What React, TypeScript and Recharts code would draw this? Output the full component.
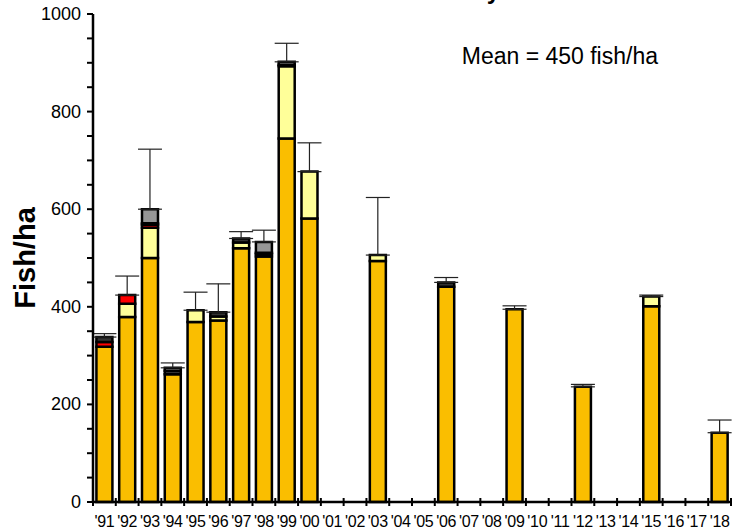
import React from "react";
import { ComposedChart, Bar, XAxis, YAxis, Scatter, ErrorBar } from "recharts";

const years = ["'91","'92","'93","'94","'95","'96","'97","'98","'99","'00","'01","'02","'03","'04","'05","'06","'07","'08","'09","'10","'11","'12","'13","'14","'15","'16","'17","'18"];
const orange = [318, 379, 500, 262, 369, 372, 520, 503, 745, 581, 0, 0, 494, 0, 0, 441, 0, 0, 395, 0, 0, 236, 0, 0, 401, 0, 0, 142];
const yellow = [0, 27, 62, 0, 24, 8, 12, 0, 148, 96, 0, 0, 12, 0, 0, 0, 0, 0, 0, 0, 0, 0, 0, 0, 20, 0, 0, 0];
const red = [10, 18, 6, 0, 0, 0, 0, 5, 0, 0, 0, 0, 0, 0, 0, 0, 0, 0, 0, 0, 0, 0, 0, 0, 0, 0, 0, 0];
const dark = [10, 0, 3, 7, 0, 9, 8, 3, 3, 0, 0, 0, 0, 0, 0, 9, 0, 0, 0, 0, 0, 0, 0, 0, 0, 0, 0, 0];
const gray = [0, 0, 29, 6, 0, 0, 0, 22, 6, 0, 0, 0, 0, 0, 0, 0, 0, 0, 0, 0, 0, 0, 0, 0, 0, 0, 0, 0];
const errUp = [7, 39, 123, 10, 37, 58, 14, 24, 38, 59, 0, 0, 118, 0, 0, 10, 0, 0, 7, 0, 0, 5, 0, 0, 3, 0, 0, 26];
const yTicks = [0, 50, 100, 150, 200, 250, 300, 350, 400, 450, 500, 550, 600, 650, 700, 750, 800, 850, 900, 950, 1000];
const yLabels = [0, 200, 400, 600, 800, 1000];

const FONT = "'Liberation Sans', Arial, sans-serif";

const data = years.map((year, i) => {
  const total = orange[i] + yellow[i] + red[i] + dark[i] + gray[i];
  return {
    year,
    orange: orange[i],
    yellow: yellow[i],
    red: red[i],
    dark: dark[i],
    gray: gray[i],
    total: total > 0 ? total : null,
    err: total > 0 ? [0, errUp[i]] : null,
  };
});

const YTick = (props: any) => {
  const { x, y, payload } = props;
  if (!yLabels.includes(payload.value)) return null;
  return (
    <text x={x} y={y} dy={6} textAnchor="end" fontSize={18} fontFamily={FONT} fill="#000">
      {payload.value}
    </text>
  );
};

const XTick = (props: any) => {
  const { x, y, payload, index } = props;
  const half = payload.offset || 11.4;
  const axisY = y - 2;
  return (
    <g>
      <line x1={x - half} x2={x - half} y1={axisY - 2} y2={axisY + 6} stroke="#000" strokeWidth={2} />
      {index === years.length - 1 && (
        <line x1={x + half} x2={x + half} y1={axisY - 2} y2={axisY + 6} stroke="#000" strokeWidth={2} />
      )}
      <text x={x} y={axisY + 27} textAnchor="middle" fontSize={16} letterSpacing={-0.3} fontFamily={FONT} fill="#000">
        {payload.value}
      </text>
    </g>
  );
};

const ErrDot = (props: any) => {
  return <g />;
};

const segStroke = { stroke: "#000", strokeWidth: 2.5 };

export default function App() {
  return (
    <div style={{ position: "absolute", left: 0, top: 0, width: 736, height: 532, background: "#fff" }}>
      <ComposedChart
        width={736}
        height={532}
        data={data}
        margin={{ top: 14, right: 5, bottom: 0, left: 0 }}
        barCategoryGap="15%"
      >
        <XAxis
          dataKey="year"
          type="category"
          height={30}
          axisLine={{ stroke: "#000", strokeWidth: 2.5 }}
          tickLine={false}
          tick={<XTick />}
          interval={0}
          tickMargin={0}
          tickSize={0}
        />
        <XAxis xAxisId="top" dataKey="year" orientation="top" height={0} axisLine={{ stroke: "#000", strokeWidth: 2.5 }} tick={false} tickLine={false} />
        <YAxis
          width={93}
          domain={[0, 1000]}
          ticks={yTicks}
          interval={0}
          axisLine={{ stroke: "#000", strokeWidth: 2.5 }}
          tickLine={{ stroke: "#000", strokeWidth: 2 }}
          tickSize={6}
          tickMargin={6}
          tick={<YTick />}
        />
        <YAxis yAxisId="right" orientation="right" width={0} domain={[0, 1000]} axisLine={{ stroke: "#000", strokeWidth: 2.5 }} tick={false} tickLine={false} />
        <Bar dataKey="orange" stackId="a" fill="#FABE00" {...segStroke} isAnimationActive={false} />
        <Bar dataKey="yellow" stackId="a" fill="#FFFF99" {...segStroke} isAnimationActive={false} />
        <Bar dataKey="red" stackId="a" fill="#FF0000" {...segStroke} isAnimationActive={false} />
        <Bar dataKey="dark" stackId="a" fill="#333333" {...segStroke} isAnimationActive={false} />
        <Bar dataKey="gray" stackId="a" fill="#969696" {...segStroke} isAnimationActive={false} />
        <Scatter dataKey="total" shape={<ErrDot />} isAnimationActive={false}>
          <ErrorBar dataKey="err" direction="y" width={12} stroke="#222" strokeWidth={1.2} isAnimationActive={false} />
        </Scatter>
      </ComposedChart>
      <svg width={736} height={532} style={{ position: "absolute", left: 0, top: 0, pointerEvents: "none" }}>
        <text x={500} y={-1} textAnchor="end" fontSize={24} fontWeight="bold" fontFamily={FONT} fill="#000">
          Density
        </text>
        <text x={658} y={64} textAnchor="end" fontSize={23} fontFamily={FONT} fill="#000">
          Mean = 450 fish/ha
        </text>
        <text
          x={0}
          y={0}
          transform="translate(35,258) rotate(-90)"
          textAnchor="middle"
          fontSize={29}
          fontWeight="bold"
          fontFamily={FONT}
          fill="#000"
        >
          Fish/ha
        </text>
      </svg>
    </div>
  );
}
